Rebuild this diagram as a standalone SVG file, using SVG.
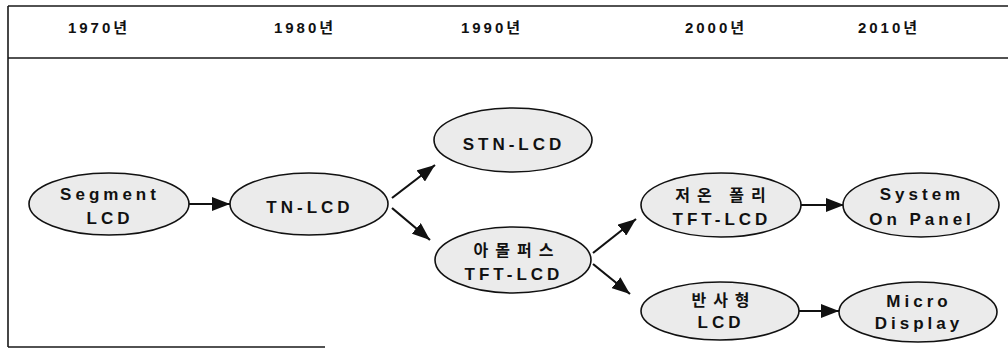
<svg xmlns="http://www.w3.org/2000/svg" width="1008" height="348" viewBox="0 0 1008 348">
<style>
.frame{stroke:#1a1a1a;stroke-width:1.6;fill:none}
.node ellipse{fill:#ebebeb;stroke:#111;stroke-width:1.6}
.t{font-family:"Liberation Sans","Noto Sans CJK KR",sans-serif;font-size:17px;font-weight:bold;letter-spacing:4px;text-anchor:middle;fill:#111}
.k{font-family:"Noto Sans CJK KR","Liberation Sans",sans-serif;font-size:16px;font-weight:bold;letter-spacing:7px;text-anchor:middle;fill:#111}
.h{font-family:"Liberation Sans","Noto Sans CJK KR",sans-serif;font-size:15px;font-weight:bold;letter-spacing:3px;text-anchor:middle;fill:#111}
.c{stroke:#111;stroke-width:2.2;fill:none;marker-end:url(#ah)}
</style>
<defs>
<marker id="ah" markerUnits="userSpaceOnUse" markerWidth="18" markerHeight="14" refX="18" refY="7" orient="auto">
<path d="M0,0 L18,7 L0,14 z" fill="#111"/>
</marker>
</defs>
<rect width="1008" height="348" fill="#fff"/>
<g id="frame">
<path class="frame" d="M8 6 H1008 M8 58 H1008 M8 6 V347 M8 347 H325"/>
</g>
<g id="header">
<text class="h" x="99" y="33">1970년</text>
<text class="h" x="305" y="33">1980년</text>
<text class="h" x="492" y="33">1990년</text>
<text class="h" x="716" y="33">2000년</text>
<text class="h" x="889" y="33">2010년</text>
</g>
<g id="connectors">
<path class="c" d="M188 204 L230 204"/>
<path class="c" d="M392 198 L435 165"/>
<path class="c" d="M392 208 L430 240"/>
<path class="c" d="M593 253 L636 219"/>
<path class="c" d="M593 264 L630 294"/>
<path class="c" d="M801 205 L844 205"/>
<path class="c" d="M799 311 L839 311"/>
</g>
<g id="n-segment" class="node">
<ellipse cx="109" cy="204" rx="80" ry="31"/>
<text class="t" x="110" y="200">Segment</text>
<text class="t" x="110" y="224">LCD</text>
</g>
<g id="n-tn" class="node">
<ellipse cx="309" cy="204" rx="79" ry="31"/>
<text class="t" x="310" y="213">TN-LCD</text>
</g>
<g id="n-stn" class="node">
<ellipse cx="513" cy="140" rx="79" ry="32"/>
<text class="t" x="514" y="150">STN-LCD</text>
</g>
<g id="n-amorphous" class="node">
<ellipse cx="513" cy="260" rx="78" ry="33"/>
<text class="k" x="517" y="256">아몰퍼스</text>
<text class="t" x="514" y="280">TFT-LCD</text>
</g>
<g id="n-ltps" class="node">
<ellipse cx="721" cy="205" rx="80" ry="32"/>
<text class="k" x="724" y="201">저온 폴리</text>
<text class="t" x="722" y="225">TFT-LCD</text>
</g>
<g id="n-sop" class="node">
<ellipse cx="921" cy="205" rx="78" ry="32"/>
<text class="t" x="922" y="200">System</text>
<text class="t" x="922" y="225">On Panel</text>
</g>
<g id="n-reflective" class="node">
<ellipse cx="720" cy="311" rx="79" ry="29"/>
<text class="k" x="724" y="306">반사형</text>
<text class="t" x="721" y="328">LCD</text>
</g>
<g id="n-micro" class="node">
<ellipse cx="918" cy="312" rx="79" ry="30"/>
<text class="t" x="919" y="307">Micro</text>
<text class="t" x="919" y="329">Display</text>
</g>
</svg>
